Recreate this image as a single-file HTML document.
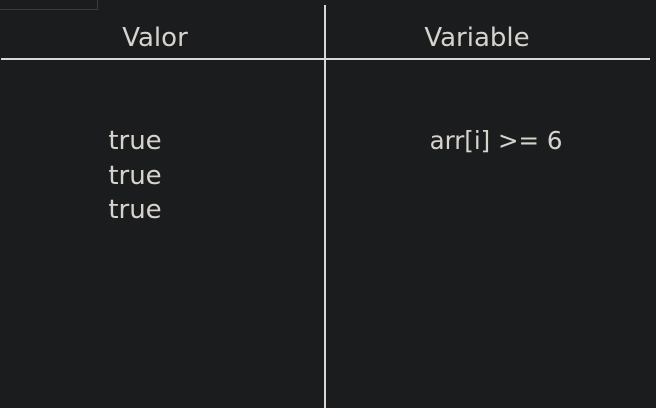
<!DOCTYPE html>
<html><head><style>
html,body{margin:0;padding:0;background:#1b1c1e;width:656px;height:408px;overflow:hidden;position:relative;font-family:"DejaVu Sans",sans-serif;color:#d6d3cc}
.t{position:absolute;font-size:26px;line-height:34.5px;white-space:nowrap;transform:translateX(-50%)}
</style></head><body>
<div style="position:absolute;left:-1px;top:-1px;width:97px;height:9px;border:1px solid #3c3c3e"></div>
<div style="position:absolute;left:1px;top:58px;width:649px;height:2px;background:#d8d8d8"></div>
<div style="position:absolute;left:324px;top:5px;width:2px;height:403px;background:#d8d8d8"></div>
<div class="t" style="left:155px;top:21px">Valor</div>
<div class="t" style="left:477px;top:21px">Variable</div>
<div class="t" style="left:135px;top:124px">true<br>true<br>true</div>
<div class="t" style="left:496px;top:124px;font-size:24.5px">arr[i] &gt;= 6</div>
</body></html>
